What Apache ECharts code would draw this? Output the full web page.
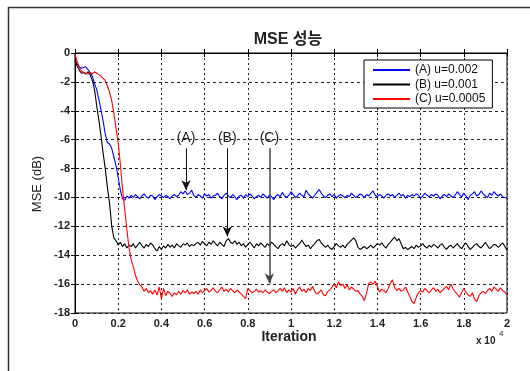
<!DOCTYPE html>
<html>
<head>
<meta charset="utf-8">
<script src="https://cdn.jsdelivr.net/npm/echarts@6/dist/echarts.min.js"></script>
<style>
  html, body { margin: 0; padding: 0; background: #fff; }
  #main { width: 530px; height: 371px; }
</style>
</head>
<body>
<div id="main"></div>
<script>
// one sample every 100 iterations, 0 .. 20000
var step = 100;

var seriesNames = ['(A) u=0.002', '(B) u=0.001', '(C) u=0.0005'];

var mseA = [
  -0.5, -0.75, -0.95, -1.05, -1.0, -0.95, -1.15, -1.35, -1.6, -2.1,
  -2.5, -3.2, -3.9, -4.7, -5.6, -6.2, -6.3, -6.6, -7.2, -7.8,
  -8.6, -9.5, -10.1, -10.2, -9.9, -10.05,
  -9.85, -10.0, -9.8, -9.95, -10.1, -9.9, -9.75, -9.95, -10.05, -9.85,
  -9.9, -10.15, -9.95, -9.8, -9.9, -10.0, -9.85, -9.95, -10.1, -9.9,
  -9.8, -9.95, -9.85, -9.6, -9.75, -9.55, -9.8, -9.7, -9.5, -9.85,
  -10.0, -9.8, -9.9, -10.05, -9.75, -9.9, -9.8, -10.05, -9.9, -9.85,
  -9.7, -9.95, -10.1, -9.85, -9.7, -9.9, -10.0, -9.8, -9.95, -10.15,
  -9.9, -9.85, -10.05, -9.8, -9.95, -9.75, -9.9, -10.1, -9.95, -9.85,
  -10.0, -9.75, -9.9, -10.05, -9.85, -9.95, -10.15, -9.9, -9.8, -9.95,
  -9.65, -9.9, -10.0, -9.85, -9.6, -9.8, -10.0, -9.9, -9.7, -9.85,
  -9.95, -9.5, -9.75, -9.9, -10.05, -9.85, -9.65, -9.45, -9.7, -9.9,
  -10.0, -9.85, -9.75, -9.95, -9.8, -10.05, -9.9, -9.8, -9.9, -10.0,
  -9.85, -9.95, -9.7, -9.85, -10.0, -9.9, -9.75, -9.85, -10.0, -9.8,
  -9.9, -9.7, -9.55, -9.85, -9.95, -9.8, -9.9, -10.05, -9.85, -9.75,
  -9.9, -9.8, -10.0, -9.85, -9.7, -9.9, -9.8, -10.05, -9.85, -9.95,
  -9.8, -9.9, -9.75, -9.85, -10.05, -9.9, -9.7, -9.85, -9.95, -9.8,
  -9.9, -9.75, -9.85, -10.1, -9.9, -9.8, -9.95, -9.75, -9.9, -10.0,
  -9.85, -9.6, -9.8, -9.95, -9.7, -9.9, -10.15, -9.85, -9.75, -9.6,
  -9.9, -9.8, -9.55, -9.75, -9.9, -10.0, -9.7, -9.85, -9.6, -9.8,
  -9.9, -9.75, -9.95, -10.0, -10.05
];

var mseB = [
  -0.5, -0.9, -1.2, -1.4, -1.35, -1.45, -1.3, -1.5, -1.9, -2.5,
  -3.6, -4.6, -5.7, -6.9, -8.0, -9.3, -10.4, -12.0, -12.8, -13.0,
  -13.3, -13.1, -13.4, -13.2, -13.5, -13.3,
  -13.4, -13.2, -13.5, -13.3, -13.1, -13.35, -13.5, -13.25, -13.4, -13.15,
  -13.3, -13.55, -13.7, -13.4, -13.6, -13.35, -13.5, -13.25, -13.45, -13.3,
  -13.5, -13.2, -13.35, -13.45, -13.2, -13.3, -13.15, -13.4, -13.25, -13.35,
  -13.2, -13.1, -13.3, -13.05, -13.2, -13.35, -13.1, -13.25, -13.0, -13.2,
  -13.35, -13.1, -13.25, -13.4, -13.0, -12.85, -13.1, -13.2, -13.0, -13.25,
  -13.1, -13.35, -13.2, -13.45, -13.25, -13.1, -13.3, -13.5, -13.2, -13.35,
  -13.15, -13.3, -13.45, -13.2, -13.35, -13.1, -13.25, -13.4, -13.55, -13.3,
  -13.2, -13.35, -13.0, -13.25, -13.4, -13.3, -13.5, -13.35, -13.2, -12.95,
  -13.2, -13.4, -13.3, -13.55, -13.35, -13.2, -13.0, -12.9, -13.15, -13.3,
  -13.45, -13.3, -13.5, -13.6, -13.4, -13.2, -13.35, -13.45, -13.3, -13.5,
  -13.25, -13.1, -12.95, -12.8, -13.0, -13.45, -13.6, -13.5, -13.4, -13.55,
  -13.45, -13.3, -13.5, -13.35, -13.2, -13.3, -13.15, -13.35, -13.5, -13.25,
  -13.1, -12.9, -12.75, -13.0, -12.85, -13.2, -13.55, -13.45, -13.6, -13.5,
  -13.4, -13.55, -13.3, -13.45, -13.35, -13.2, -13.4, -13.5, -13.3, -13.45,
  -13.25, -13.35, -13.5, -13.3, -13.2, -13.45, -13.6, -13.4, -13.3, -13.5,
  -13.35, -13.2, -13.4, -13.55, -13.3, -13.15, -13.4, -13.6, -13.45, -13.3,
  -13.2, -13.4, -13.5, -13.3, -13.1, -13.35, -13.55, -13.4, -13.25, -13.3,
  -13.45, -13.3, -13.15, -13.4, -13.65
];

var mseC = [
  -0.1, -0.6, -1.0, -1.25, -1.35, -1.4, -1.45, -1.35, -1.45, -1.3,
  -1.4, -1.5, -1.6, -1.75, -1.9, -2.3, -2.7, -3.3, -4.2, -5.2,
  -6.2, -7.7, -9.4, -10.8, -12.2, -13.5, -14.3, -14.8, -15.4, -15.8,
  -16.05, -16.2, -16.5, -16.3, -16.6, -16.45,
  -16.7, -16.4, -16.75, -16.2, -17.0, -16.3, -16.8, -16.5, -16.65, -16.85,
  -16.6, -16.75, -16.5, -16.7, -16.45, -16.6, -16.4, -16.7, -16.55, -16.65,
  -16.5, -16.7, -16.4, -16.6, -16.45, -16.3, -16.55, -16.45, -16.25, -16.5,
  -16.6, -16.4, -16.2, -16.5, -16.35, -16.55, -16.3, -16.45, -16.6, -16.4,
  -16.55, -16.7, -16.85, -17.0, -16.3, -16.45, -16.6, -16.5, -16.35, -16.55,
  -16.45, -16.6, -16.4, -16.55, -16.65, -16.5, -16.4, -16.6, -16.45, -16.3,
  -16.5, -16.25, -16.6, -16.4, -16.55, -16.3, -16.7, -16.4, -16.2, -16.5,
  -16.35, -16.6, -16.3, -16.45, -16.15, -16.5, -16.7, -16.55, -16.4, -16.75,
  -16.8, -16.5, -16.4, -16.2, -16.0, -16.25, -15.85, -16.1, -16.0, -16.3,
  -16.05, -16.4, -16.2, -16.35, -16.5, -16.45, -16.7, -16.85, -17.15, -16.6,
  -15.95, -15.85, -16.0, -15.8, -16.15, -16.55, -16.35, -16.45, -16.6, -16.3,
  -15.95, -15.7, -16.25, -16.45, -16.3, -16.5, -16.4, -16.2, -16.55, -16.85,
  -17.2, -17.35, -16.9, -16.6, -16.45, -16.55, -16.3, -16.45, -16.6, -16.4,
  -16.25, -16.5, -16.35, -16.6, -16.45, -16.3, -16.15, -16.4, -16.0, -16.3,
  -16.55, -16.7, -16.9, -16.6, -16.3, -16.55, -16.75, -16.85, -16.6, -17.05,
  -17.2, -16.8, -16.6, -16.5, -16.65, -16.45, -16.3, -16.5, -16.2, -16.35,
  -16.5, -16.25, -16.45, -16.55, -16.75
];

// annotation arrows: label, iteration, start dB, tip dB
var arrowLabels = ['(A)', '(B)', '(C)'];
var arrowIter = [5140, 7050, 9000];
var arrowTop = [-6.6, -6.6, -6.6];
var arrowTip = [-9.5, -12.7, -15.95];

var yTicks = [-18, 0, 2];     // min, max, interval
var xTicks = [0, 20000, 2000];

var font = 'Liberation Sans, Arial, Noto Sans CJK KR, sans-serif';

function toPairs(arr) {
  var out = [];
  for (var i = 0; i < arr.length; i++) {
    out.push([i * step, arr[i]]);
  }
  return out;
}

function arrow(k) {
  return [{
    coord: [arrowIter[k], arrowTop[k]],
    label: { show: true, formatter: arrowLabels[k] }
  }, {
    coord: [arrowIter[k], arrowTip[k]]
  }];
}

var chart = echarts.init(document.getElementById('main'), null, { renderer: 'canvas' });

var colors = ['#0000ff', '#000000', '#ff0000'];
var allData = [mseA, mseB, mseC];

var series = [];
for (var s = 0; s < 3; s++) {
  series.push({
    name: seriesNames[s],
    type: 'line',
    data: toPairs(allData[s]),
    symbol: 'none',
    lineStyle: { color: colors[s], width: 1.1 },
    itemStyle: { color: colors[s] },
    z: 3,
    animation: false,
    markLine: {
      silent: true,
      animation: false,
      symbol: ['none', 'arrow'],
      symbolSize: [7, 10],
      lineStyle: { color: s == 2 ? '#444' : '#111', width: s == 2 ? 1.5 : 1, type: 'solid' },
      label: {
        position: 'start',
        distance: 3,
        color: '#222',
        fontFamily: font,
        fontSize: 14
      },
      data: [arrow(s)]
    }
  });
}

var option = {
  backgroundColor: '#fff',
  animation: false,
  grid: {
    left: 75, right: 23, top: 53, bottom: 58,
    show: true, borderColor: '#000', borderWidth: 1
  },
  legend: {
    orient: 'vertical',
    left: 364, top: 60,
    padding: [4, 7, 3, 8],
    itemWidth: 37, itemHeight: 10, itemGap: 2.5,
    itemStyle: { opacity: 0 },
    backgroundColor: '#fff',
    borderColor: '#000', borderWidth: 1,
    borderRadius: 0,
    textStyle: { fontFamily: font, fontSize: 12, lineHeight: 12, color: '#111' },
    data: seriesNames
  },
  xAxis: [{
    type: 'value',
    min: xTicks[0], max: xTicks[1], interval: xTicks[2],
    axisLine: { show: true, lineStyle: { color: '#000' } },
    axisTick: { show: true, inside: true, length: 4, lineStyle: { color: '#000' } },
    axisLabel: {
      fontFamily: font, fontSize: 11, fontWeight: 'bold', color: '#222', margin: 5,
      formatter: function (v) { return String(v / 10000); }
    },
    splitLine: { show: true, lineStyle: { color: '#222', width: 1, type: [2, 3] } }
  }, {
    type: 'value', position: 'top',
    min: xTicks[0], max: xTicks[1], interval: xTicks[2],
    axisLine: { show: false },
    axisTick: { show: true, inside: true, length: 4, lineStyle: { color: '#000' } },
    axisLabel: { show: false },
    splitLine: { show: false }
  }],
  yAxis: [{
    type: 'value',
    min: yTicks[0], max: yTicks[1], interval: yTicks[2],
    axisLine: { show: true, lineStyle: { color: '#000' } },
    axisTick: { show: true, inside: true, length: 4, lineStyle: { color: '#000' } },
    axisLabel: { fontFamily: font, fontSize: 11, fontWeight: 'bold', color: '#222', margin: 5 },
    splitLine: { show: true, lineStyle: { color: '#222', width: 1, type: [3, 3] } }
  }, {
    type: 'value', position: 'right',
    min: yTicks[0], max: yTicks[1], interval: yTicks[2],
    axisLine: { show: false },
    axisTick: { show: true, inside: true, length: 4, lineStyle: { color: '#000' } },
    axisLabel: { show: false },
    splitLine: { show: false }
  }],
  series: series,
  graphic: [
    {
      type: 'rect', silent: true, z: -1,
      shape: { x: 8.5, y: 7.5, width: 560, height: 420 },
      style: { fill: 'none', stroke: '#333', lineWidth: 1.5 }
    },
    {
      type: 'text', x: 288, y: 40,
      style: {
        text: 'MSE 성능', fontFamily: font, fontSize: 16, fontWeight: 'bold',
        fill: '#222', align: 'center', verticalAlign: 'middle'
      }
    },
    {
      type: 'text', x: 289, y: 337,
      style: {
        text: 'Iteration', fontFamily: font, fontSize: 14, fontWeight: 'bold',
        fill: '#222', align: 'center', verticalAlign: 'middle'
      }
    },
    {
      type: 'text', x: 37, y: 184, rotation: Math.PI / 2,
      style: {
        text: 'MSE (dB)', fontFamily: font, fontSize: 13,
        fill: '#222', align: 'center', verticalAlign: 'middle'
      }
    },
    {
      type: 'text', x: 476, y: 341,
      style: {
        text: 'x 10', fontFamily: font, fontSize: 10, fontWeight: 'bold',
        fill: '#222', align: 'left', verticalAlign: 'middle'
      }
    },
    {
      type: 'text', x: 499, y: 334,
      style: {
        text: '4', fontFamily: font, fontSize: 8,
        fill: '#222', align: 'left', verticalAlign: 'middle'
      }
    }
  ]
};

chart.setOption(option);
</script>
</body>
</html>
